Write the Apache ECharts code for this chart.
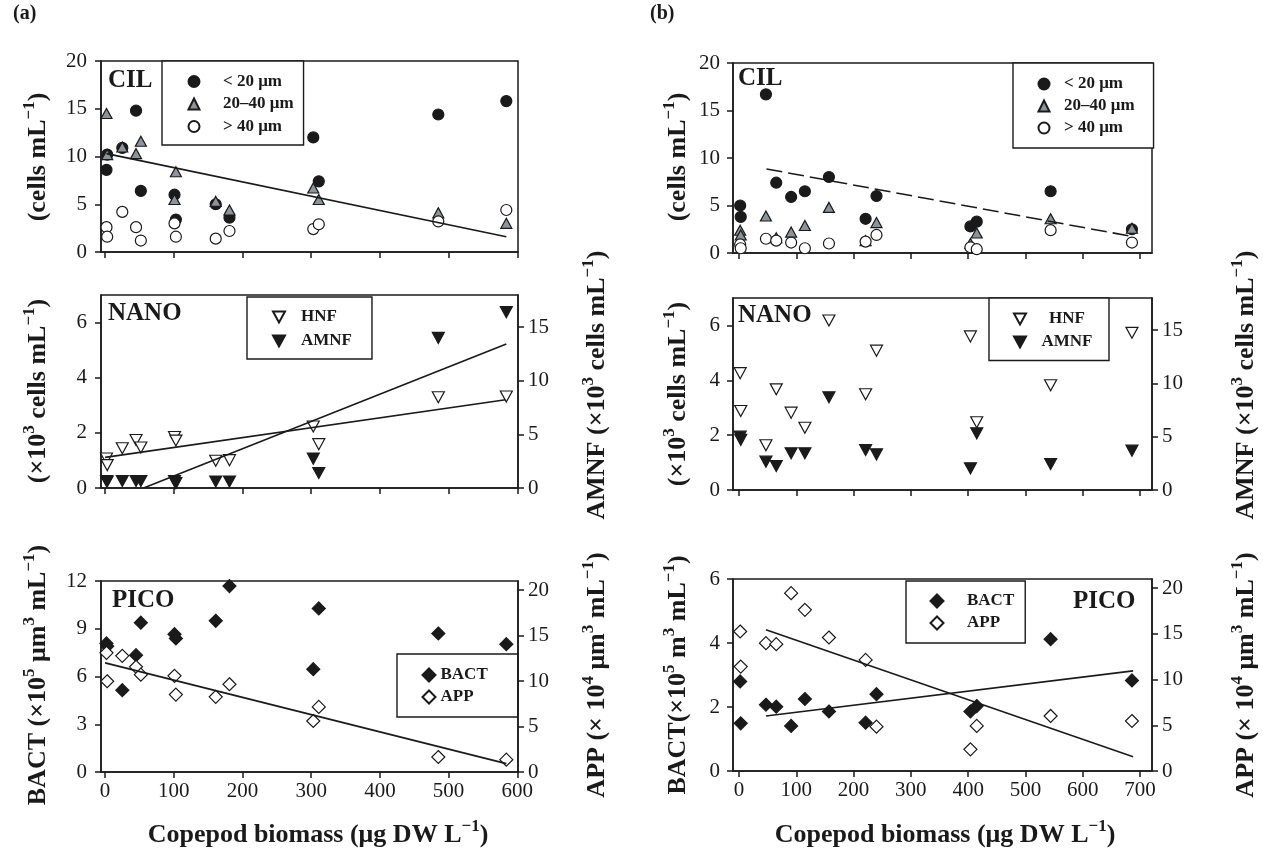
<!DOCTYPE html>
<html><head><meta charset="utf-8">
<script src="https://cdn.jsdelivr.net/npm/echarts@6/dist/echarts.min.js"></script>
<style>html,body{margin:0;padding:0;background:#fff}#c{width:1263px;height:857px}</style>
</head><body><div id="c"></div>
<script>
const FONT = '"Liberation Serif","Times New Roman",serif';
const INK = '#1a1a1a';
const GRAY = '#8a949a';

// Copepod biomass of the 13 samples (µg DW L-1)
const xA = [2, 3, 25, 45, 52, 101, 103, 161, 181, 303, 311, 485, 584];
const xB = [2, 3, 47, 65, 91, 115, 157, 221, 240, 404, 415, 544, 686];

// (a) ciliates (cells mL-1)
const cilA_lt20 = [8.6, 10.2, 10.9, 14.8, 6.4, 6.0, 3.4, 5.0, 3.6, 12.0, 7.4, 14.4, 15.8];
const cilA_2040 = [14.5, 10.2, 11.0, 10.3, 11.6, 5.5, 8.4, 5.3, 4.4, 6.7, 5.5, 4.1, 3.0];
const cilA_gt40 = [2.6, 1.6, 4.2, 2.6, 1.2, 3.0, 1.6, 1.4, 2.2, 2.4, 2.9, 3.2, 4.4];
const cilA_fit = [[2, 10.3], [584, 1.6]];
// (a) nano (x10^3 cells mL-1)
const hnfA = [1.07, 0.83, 1.44, 1.74, 1.47, 1.85, 1.72, 0.99, 1.01, 2.23, 1.59, 3.29, 3.32];
const amnfA = [0.65, 0.6, 0.65, 0.65, 0.65, 0.65, 0.45, 0.6, 0.6, 2.74, 1.4, 14.0, 16.4];
const hnfA_fit = [[0, 1.11], [583, 3.2]];
const amnfA_fit = [[56, 0], [584, 13.44]];
// (a) pico
const bactA = [8.08, 7.9, 5.14, 7.34, 9.38, 8.66, 8.39, 9.5, 11.68, 6.46, 10.28, 8.7, 8.03];
const appA = [13.1, 9.98, 12.77, 11.56, 10.7, 10.57, 8.51, 8.26, 9.65, 5.61, 7.16, 1.65, 1.36];
const appA_fit = [[0, 12.0], [584, 0.92]];

// (b) ciliates
const cilB_lt20 = [5.0, 3.8, 16.7, 7.4, 5.9, 6.5, 8.0, 3.6, 6.0, 2.8, 3.3, 6.5, 2.5];
const cilB_2040 = [2.4, 1.9, 3.9, 1.6, 2.2, 2.9, 4.8, 1.3, 3.2, 1.0, 2.1, 3.6, 2.6];
const cilB_gt40 = [0.9, 0.5, 1.5, 1.3, 1.1, 0.5, 1.0, 1.2, 1.9, 0.6, 0.4, 2.4, 1.1];
const cilB_fit = [[48, 8.85], [685, 1.75]];
// (b) nano
const hnfB = [4.26, 2.88, 1.63, 3.67, 2.82, 2.27, 6.18, 3.49, 5.08, 5.6, 2.47, 3.82, 5.73];
const amnfB = [5.0, 4.7, 2.66, 2.25, 3.44, 3.44, 8.69, 3.75, 3.34, 2.03, 5.31, 2.44, 3.69];
// (b) pico
const bactB = [2.80, 1.49, 2.07, 2.01, 1.41, 2.25, 1.86, 1.51, 2.40, 1.86, 2.03, 4.12, 2.83];
const appB = [15.26, 11.42, 13.98, 13.87, 19.45, 17.63, 14.6, 12.15, 4.85, 2.37, 4.93, 6.02, 5.47];
const bactB_fit = [[47, 1.72], [688, 3.13]];
const appB_fit = [[47, 15.44], [688, 1.57]];

// tick labels
const xTicksA = [0, 100, 200, 300, 400, 500, 600];
const xTicksB = [0, 100, 200, 300, 400, 500, 600, 700];
const tCil = [0, 5, 10, 15, 20];
const tNanoL = [0, 2, 4, 6];
const tNanoR = [0, 5, 10, 15];
const tPicoAL = [0, 3, 6, 9, 12];
const tPicoR = [0, 5, 10, 15, 20];
const tPicoBL = [0, 2, 4, 6];

const N_LT20 = '< 20 μm', N_2040 = '20–40 μm', N_GT40 = '> 40 μm';
const TRI_DN = 'path://M0,0L12,0L6,11Z';
const lgNano = [{ name: 'HNF', icon: TRI_DN }, { name: 'AMNF', icon: TRI_DN }];

function pts(xs, ys) { return xs.map((x, i) => [x, ys[i]]); }

const lineSt = { color: INK, width: 1.5 };
function xAx(gi, min, max, ticks, labels) {
  return {
    type: 'value', gridIndex: gi, min, max,
    axisLine: { show: true, onZero: false, lineStyle: lineSt },
    axisTick: { show: true, inside: false, length: 6, lineStyle: lineSt, customValues: ticks },
    axisLabel: { show: labels, customValues: ticks, margin: 9, fontFamily: FONT, fontSize: 21, color: INK },
    splitLine: { show: false }
  };
}
function yAx(gi, pos, max, ticks, margin) {
  return {
    type: 'value', gridIndex: gi, position: pos, min: 0, max,
    axisLine: { show: true, onZero: false, lineStyle: lineSt },
    axisTick: { show: true, inside: false, length: 6, lineStyle: lineSt, customValues: ticks },
    axisLabel: { customValues: ticks, margin, fontFamily: FONT, fontSize: 21, color: INK },
    splitLine: { show: false }
  };
}
function grid(left, top, width, height) {
  return { left, top, width, height, show: true, borderColor: INK, borderWidth: 1.5, backgroundColor: 'transparent' };
}
function sc(name, xi, yi, xs, ys, symbol, size, fill, rot) {
  return {
    type: 'scatter', name, xAxisIndex: xi, yAxisIndex: yi, data: pts(xs, ys),
    symbol, symbolSize: size, symbolRotate: rot || 0,
    itemStyle: { color: fill, borderColor: INK, borderWidth: 1.2, opacity: 1 }, z: 3
  };
}
function fit(name, xi, yi, data, dashed) {
  return {
    type: 'line', name, xAxisIndex: xi, yAxisIndex: yi, data, symbol: 'none', silent: true,
    lineStyle: { color: INK, width: 1.6, type: dashed ? [16, 6] : 'solid' }, z: 4
  };
}
const legTxt = { fontFamily: FONT, fontWeight: 'bold', fontSize: 17, lineHeight: 17, color: INK };
function lg(left, top, data, size, padding, itemGap, gap, centerW) {
  const rich = { g: { width: gap, fontSize: 17, lineHeight: 17 }, c: Object.assign({}, legTxt) };
  if (centerW) { rich.c.width = centerW; rich.c.align = 'center'; }
  return {
    left, top, orient: 'vertical', data, itemWidth: size, itemHeight: size, padding, itemGap,
    borderColor: INK, borderWidth: 1.4, backgroundColor: '#fff', selectedMode: false,
    formatter: n => (gap > 0 ? '{g| }' : '') + '{c|' + n + '}',
    textStyle: Object.assign({ rich }, legTxt)
  };
}

const supRich = {
  t: { fontFamily: FONT, fontWeight: 'bold', fontSize: 26, lineHeight: 34, fill: INK },
  s: { fontFamily: FONT, fontWeight: 'bold', fontSize: 17, lineHeight: 14, verticalAlign: 'top', fill: INK }
};
function vtitle(x, y, text) {
  return { type: 'text', x, y, rotation: Math.PI / 2, style: { text, rich: supRich, align: 'center', verticalAlign: 'middle' } };
}
function htitle(x, y, text) {
  return { type: 'text', x, y, style: { text, rich: supRich, align: 'center', verticalAlign: 'middle' } };
}
function ptext(x, y, text, size) {
  return { type: 'text', x, y, style: { text, font: 'bold ' + size + 'px ' + FONT, fill: INK, align: 'left', verticalAlign: 'middle' } };
}

const option = {
  animation: false,
  backgroundColor: '#fff',
  textStyle: { fontFamily: FONT },
  grid: [
    grid(101, 61, 417, 191),
    grid(101, 295, 417, 193),
    grid(101, 581, 417, 191),
    grid(733, 63, 419, 190),
    grid(733, 298, 419, 192),
    grid(733, 579, 419, 192)
  ],
  xAxis: [
    xAx(0, -6, 601, xTicksA, false),
    xAx(1, -6, 601, xTicksA, false),
    xAx(2, -6, 601, xTicksA, true),
    xAx(3, -10.5, 721, xTicksB, false),
    xAx(4, -10.5, 721, xTicksB, false),
    xAx(5, -10.5, 721, xTicksB, true)
  ],
  yAxis: [
    yAx(0, 'left', 20, tCil, 14),
    yAx(1, 'left', 7, tNanoL, 14),
    yAx(1, 'right', 18, tNanoR, 10),
    yAx(2, 'left', 12, tPicoAL, 14),
    yAx(2, 'right', 21, tPicoR, 10),
    yAx(3, 'left', 20, tCil, 13),
    yAx(4, 'left', 7, tNanoL, 13),
    yAx(4, 'right', 18, tNanoR, 10),
    yAx(5, 'left', 6, tPicoBL, 13),
    yAx(5, 'right', 21, tPicoR, 10)
  ],
  legend: [
    lg(162, 61, [N_LT20, N_2040, N_GT40], 11, [12, 10, 10, 25.5], 5.5, 18.5),
    lg(247, 297, lgNano, 12, [11.5, 20, 9.5, 25], 7, 11),
    lg(397, 654, ['BACT', 'APP'], 13, [12.5, 30, 11.5, 24.5], 5, 0),
    lg(1013, 63, [N_LT20, N_2040, N_GT40], 11, [12.5, 19, 11.5, 24.5], 5, 9.5),
    lg(989, 298, lgNano, 12, [12.5, 15, 10, 24], 6, 9, 54),
    lg(906, 581, ['BACT', 'APP'], 13, [11.5, 11, 11.5, 23.5], 5, 18.5)
  ],
  series: [
    sc(N_LT20, 0, 0, xA, cilA_lt20, 'circle', 11, INK),
    sc(N_2040, 0, 0, xA, cilA_2040, 'triangle', [11, 10], GRAY),
    sc(N_GT40, 0, 0, xA, cilA_gt40, 'circle', 11, '#fff'),
    fit('fitCilA', 0, 0, cilA_fit),
    sc('HNF', 1, 1, xA, hnfA, 'triangle', [12, 11], '#fff', 180),
    sc('AMNF', 1, 2, xA, amnfA, 'triangle', [12, 11], INK, 180),
    fit('fitHnfA', 1, 1, hnfA_fit),
    fit('fitAmnfA', 1, 2, amnfA_fit),
    sc('BACT', 2, 3, xA, bactA, 'diamond', 13, INK),
    sc('APP', 2, 4, xA, appA, 'diamond', 13, '#fff'),
    fit('fitAppA', 2, 4, appA_fit),
    sc(N_LT20, 3, 5, xB, cilB_lt20, 'circle', 11, INK),
    sc(N_2040, 3, 5, xB, cilB_2040, 'triangle', [11, 10], GRAY),
    sc(N_GT40, 3, 5, xB, cilB_gt40, 'circle', 11, '#fff'),
    fit('fitCilB', 3, 5, cilB_fit, true),
    sc('HNF', 4, 6, xB, hnfB, 'triangle', [12, 11], '#fff', 180),
    sc('AMNF', 4, 7, xB, amnfB, 'triangle', [12, 11], INK, 180),
    sc('BACT', 5, 8, xB, bactB, 'diamond', 13, INK),
    sc('APP', 5, 9, xB, appB, 'diamond', 13, '#fff'),
    fit('fitBactB', 5, 8, bactB_fit),
    fit('fitAppB', 5, 9, appB_fit)
  ],
  graphic: [
    ptext(13, 14, '(a)', 20),
    ptext(650, 14, '(b)', 20),
    ptext(108, 81, 'CIL', 25),
    ptext(108, 314, 'NANO', 25),
    ptext(112, 601, 'PICO', 25),
    ptext(738, 79, 'CIL', 25),
    ptext(738, 316, 'NANO', 25),
    ptext(1073, 602, 'PICO', 25),
    vtitle(38, 157, '{t|(cells mL}{s|−1}{t|)}'),
    vtitle(38, 391, '{t|(×10}{s|3}{t| cells mL}{s|−1}{t|)}'),
    vtitle(38, 675, '{t|BACT (×10}{s|5}{t| μm}{s|3}{t| mL}{s|−1}{t|)}'),
    vtitle(597, 385, '{t|AMNF (×10}{s|3}{t| cells mL}{s|−1}{t|)}'),
    vtitle(597, 675, '{t|APP (× 10}{s|4}{t| μm}{s|3}{t| mL}{s|−1}{t|)}'),
    vtitle(678, 157, '{t|(cells mL}{s|−1}{t|)}'),
    vtitle(678, 394, '{t|(×10}{s|3}{t| cells mL}{s|−1}{t|)}'),
    vtitle(678, 675, '{t|BACT(×10}{s|5}{t| m}{s|3}{t| mL}{s|−1}{t|)}'),
    vtitle(1246, 385, '{t|AMNF (×10}{s|3}{t| cells mL}{s|−1}{t|)}'),
    vtitle(1246, 675, '{t|APP (× 10}{s|4}{t| μm}{s|3}{t| mL}{s|−1}{t|)}'),
    htitle(318, 835, '{t|Copepod biomass (μg DW L}{s|−1}{t|)}'),
    htitle(945, 835, '{t|Copepod biomass (μg DW L}{s|−1}{t|)}')
  ]
};
const chart = echarts.init(document.getElementById('c'), null, { renderer: 'canvas' });
chart.setOption(option);
</script></body></html>
